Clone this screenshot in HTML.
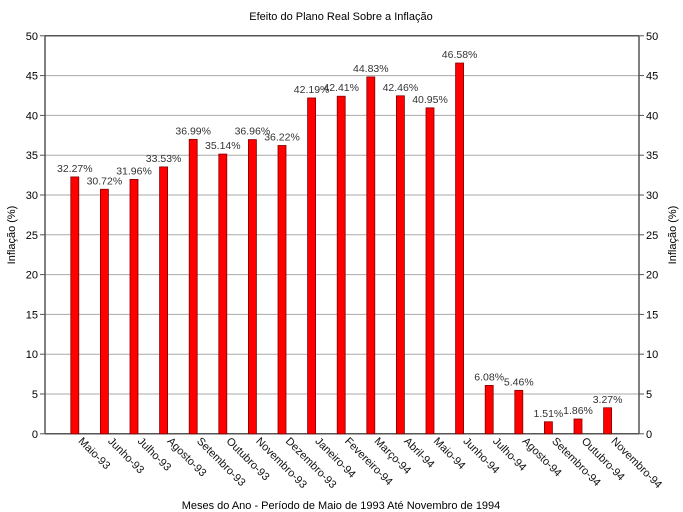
<!DOCTYPE html>
<html><head><meta charset="utf-8"><style>body{margin:0;background:#fff}svg{display:block;font-family:"Liberation Sans",sans-serif}</style></head>
<body>
<svg id="s" width="683" height="512" xmlns="http://www.w3.org/2000/svg"></svg>
<script>
const s=document.getElementById('s');
const L=45,R=639,Y0=433.8,K=7.96;
const y=v=>Y0-K*v;
let h='';
h+='<text x="341" y="20" font-size="11" text-anchor="middle">Efeito do Plano Real Sobre a Inflação</text>';
for(let v=0;v<=50;v+=5){
 const yy=y(v);
 h+=`<line x1="${L}" x2="${R}" y1="${yy}" y2="${yy}" stroke="${v==0||v==50?'#555':'#aaa'}" stroke-width="${v==0||v==50?1.5:1}"/>`;
 h+=`<line x1="${L-5}" x2="${L}" y1="${yy}" y2="${yy}" stroke="#555"/><line x1="${R}" x2="${R+5}" y1="${yy}" y2="${yy}" stroke="#555"/>`;
 h+=`<text x="${L-7}" y="${yy+4}" font-size="11" text-anchor="end">${v}</text>`;
 h+=`<text x="${R+7}" y="${yy+4}" font-size="11">${v}</text>`;
}
h+=`<line x1="${L}" x2="${L}" y1="${y(50)}" y2="${Y0}" stroke="#555" stroke-width="1.5"/><line x1="${R}" x2="${R}" y1="${y(50)}" y2="${Y0}" stroke="#555" stroke-width="1.5"/>`;
const d=[["Maio-93",32.27],["Junho-93",30.72],["Julho-93",31.96],["Agosto-93",33.53],["Setembro-93",36.99],["Outubro-93",35.14],["Novembro-93",36.96],["Dezembro-93",36.22],["Janeiro-94",42.19],["Fevereiro-94",42.41],["Março-94",44.83],["Abril-94",42.46],["Maio-94",40.95],["Junho-94",46.58],["Julho-94",6.08],["Agosto-94",5.46],["Setembro-94",1.51],["Outubro-94",1.86],["Novembro-94",3.27]];
d.forEach((e,i)=>{
 const c=74.8+i*29.6, t=y(e[1]);
 h+=`<rect x="${c-4}" y="${t}" width="8" height="${Y0-t}" fill="#ff0000" stroke="#800000" stroke-width="0.8"/>`;
 h+=`<text x="${c}" y="${t-5}" font-size="10.5" text-anchor="middle" fill="#333">${e[1].toFixed(2)}%</text>`;
 h+=`<text transform="translate(${c+3},${Y0+8}) rotate(45)" font-size="11" fill="#111">${e[0]}</text>`;
});
h+='<text x="341" y="509" font-size="11" text-anchor="middle">Meses do Ano - Período de Maio de 1993 Até Novembro de 1994</text>';
h+='<text transform="translate(15,235) rotate(-90)" font-size="11" text-anchor="middle">Inflação (%)</text>';
h+='<text transform="translate(676,235) rotate(-90)" font-size="11" text-anchor="middle">Inflação (%)</text>';
s.innerHTML=h;
</script>
</body></html>
